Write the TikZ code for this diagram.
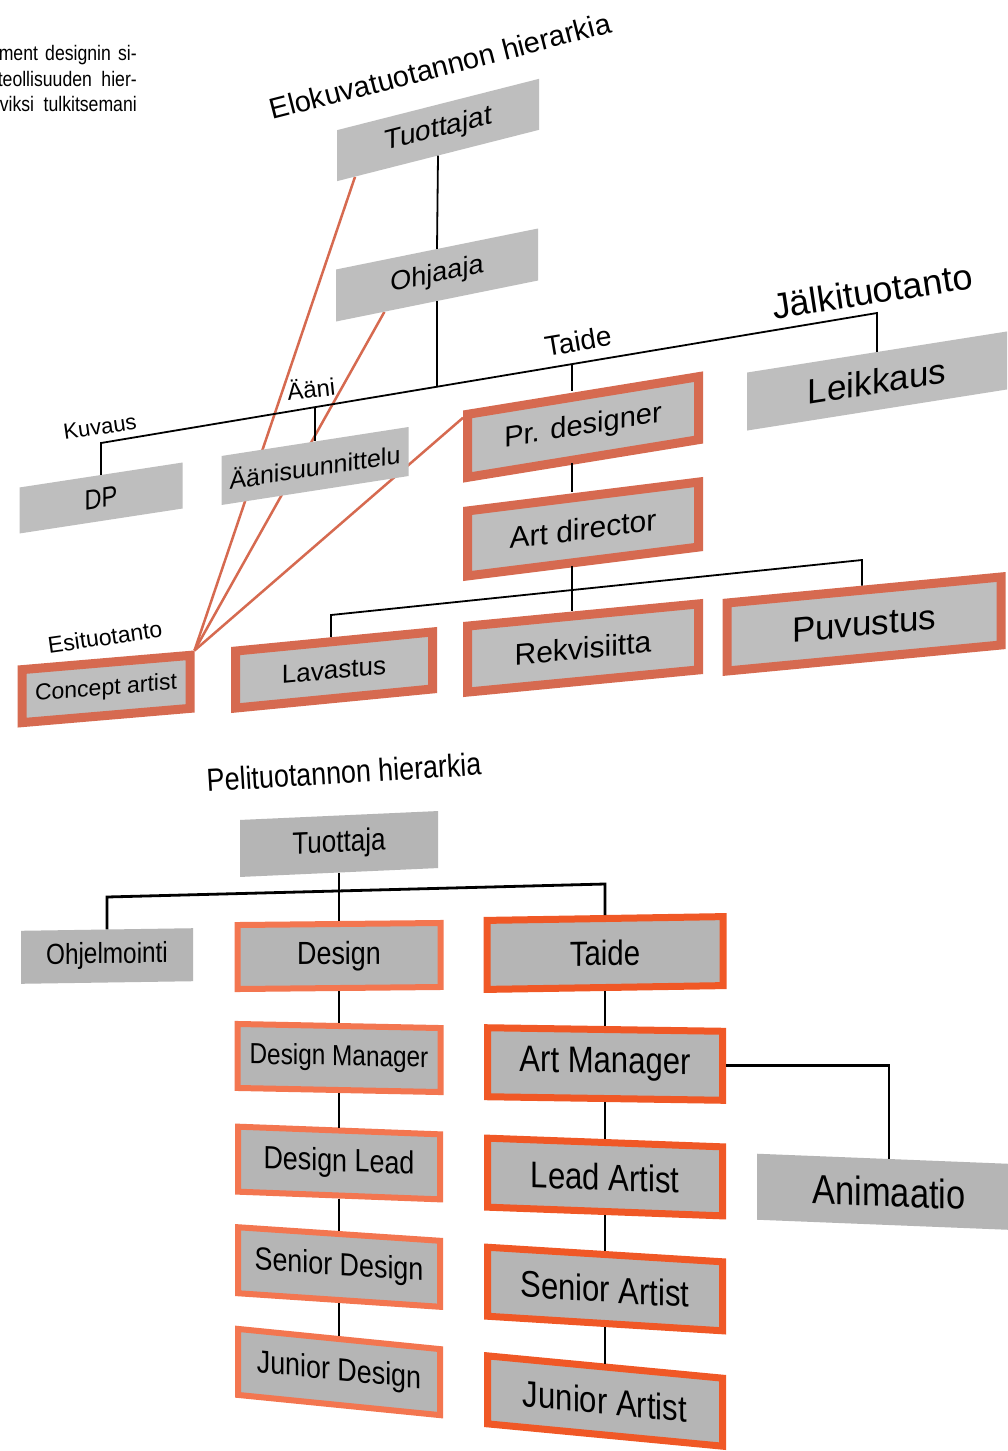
\documentclass[tikz,border=0pt]{standalone}
\usepackage{fontspec}
\setmainfont{Liberation Sans}
\newfontfamily\cnfont[FakeStretch=0.84]{Liberation Sans}
\usetikzlibrary{calc,backgrounds}

\definecolor{filmgray}{RGB}{190,190,190}
\definecolor{gamegray}{RGB}{181,181,181}
\definecolor{filmorange}{RGB}{214,106,80}
\definecolor{designorange}{RGB}{243,118,80}
\definecolor{artorange}{RGB}{240,88,38}

\newcommand{\fsz}[1]{\fontsize{#1}{#1}\selectfont}

\tikzset{
  grouptext/.style={inner sep=0pt},
  plainbox/.style={fill=filmgray, inner sep=0pt},
  filmbox/.style={fill=filmgray, draw=filmorange, line width=9pt, inner sep=0pt},
  gamebox/.style={fill=gamegray, inner sep=0pt},
  designbox/.style={fill=gamegray, draw=designorange, line width=6pt, inner sep=0pt},
  artbox/.style={fill=gamegray, draw=artorange, line width=7pt, inner sep=0pt},
  link/.style={line width=1.8pt},
  gamelink/.style={line width=2.8pt},
  sketchline/.style={filmorange, line width=2.5pt},
}

\begin{document}
\begin{tikzpicture}[x=1pt,y=-1pt]
  \useasboundingbox (0,0) rectangle (1008,1451);

  % text column, cut at the left edge
  \node[grouptext, anchor=base east, font=\cnfont\fsz{21}] (para1) at (137,60) {\makebox[138pt][s]{ment designin si-}};
  \node[grouptext, anchor=base east, font=\cnfont\fsz{21}] (para2) at (137,86) {\makebox[139pt][s]{teollisuuden hier-}};
  \node[grouptext, anchor=base east, font=\cnfont\fsz{21}] (para3) at (137,111) {\makebox[137pt][s]{viksi tulkitsemani}};

  % film production
  \node[grouptext, rotate=14.4, font=\fsz{29}] (filmtitle) at (440,66) {Elokuvatuotannon hierarkia};
  \node[plainbox, minimum width=202pt, minimum height=51pt, yslant=0.254, font=\fsz{28}] (tuottajat) at (438,130) {Tuottajat};
  \node[plainbox, minimum width=202pt, minimum height=52pt, yslant=0.203, font=\fsz{27}] (ohjaaja) at (437,275) {Ohjaaja};
  \node[plainbox, minimum width=163pt, minimum height=46pt, yslant=0.153, font=\cnfont\fsz{28}] (dp) at (101,498) {DP};
  \node[plainbox, minimum width=187pt, minimum height=49pt, yslant=0.155, font=\fsz{25}] (aanisuun) at (315,466) {Äänisuunnittelu};
  \node[plainbox, minimum width=260pt, minimum height=58pt, yslant=0.158, font=\fsz{35}] (leikkaus) at (877,381) {Leikkaus};
  \node[filmbox, minimum width=231pt, minimum height=63pt, yslant=0.163, font=\fsz{29}] (prdes) at (583,427) {Pr. designer};
  \node[filmbox, minimum width=231pt, minimum height=65pt, yslant=0.125, font=\fsz{30}] (artdir) at (583,529) {Art director};
  \node[filmbox, minimum width=231pt, minimum height=66pt, yslant=0.096, font=\fsz{30}] (rekvisiitta) at (583,648) {Rekvisiitta};
  \node[filmbox, minimum width=274pt, minimum height=68pt, yslant=0.095, font=\fsz{35}] (puvustus) at (864,624) {Puvustus};
  \node[filmbox, minimum width=197pt, minimum height=57pt, yslant=0.097, font=\fsz{26}] (lavastus) at (334,670) {Lavastus};
  \node[filmbox, minimum width=168pt, minimum height=53pt, yslant=0.085, font=\fsz{23}] (concept) at (106,689) {Concept artist};

  \node[grouptext, rotate=8, font=\fsz{22}] (kuvaus) at (100,427) {Kuvaus};
  \node[grouptext, rotate=6, font=\fsz{24}] (aani) at (311,388) {Ääni};
  \node[grouptext, rotate=9.5, font=\fsz{28}] (taide) at (578,341) {Taide};
  \node[grouptext, rotate=8.7, font=\fsz{36}] (jalki) at (872,291) {Jälkituotanto};
  \node[grouptext, rotate=8, font=\fsz{23}] (esi) at (105,637) {Esituotanto};

  \coordinate (barL) at (101,443);
  \coordinate (barR) at (877,313);
  \coordinate (jOhj) at (437,387);
  \coordinate (jAani) at (315,407);
  \coordinate (jTaide) at (572,364);
  \coordinate (lowL) at (331,615);
  \coordinate (lowR) at (862,560);

  \draw[link] (tuottajat.south) -- (ohjaaja.north);
  \draw[link] (ohjaaja.south) -- (jOhj);
  \draw[link] (dp.north) -- (barL) -- (barR) -- (leikkaus.north);
  \draw[link] (jAani) -- (aanisuun.north);
  \draw[link] (jTaide) -- (jTaide |- prdes.north);
  \draw[link] (prdes.south -| jTaide) -- (artdir.north -| jTaide);
  \draw[link] (artdir.south -| jTaide) -- (rekvisiitta.north -| jTaide);
  \draw[link] (lavastus.north -| lowL) -- (lowL) -- (lowR) -- (puvustus.north -| lowR);

  % concept artist lines, behind the boxes
  \begin{scope}[on background layer]
    \fill[white] (0,0) rectangle (1008,1451);
    \draw[sketchline] (concept.north east) -- ($(tuottajat.south west)!0.09!(tuottajat.south east)$);
    \draw[sketchline] (concept.north east) -- ($(ohjaaja.south west)!0.24!(ohjaaja.south east)$);
    \draw[sketchline] (concept.north east) -- ($(prdes.north west)!0.1!(prdes.south west)$);
  \end{scope}

  % game production
  \node[grouptext, rotate=3.5, font=\cnfont\fsz{32}] (gametitle) at (344,772) {Pelituotannon hierarkia};
  \node[gamebox, minimum width=198pt, minimum height=57pt, yslant=0.045, font=\cnfont\fsz{31}] (tuottaja) at (339,844) {Tuottaja};
  \node[gamebox, minimum width=172pt, minimum height=53pt, yslant=0.015, font=\cnfont\fsz{29}] (ohjelmointi) at (107,956) {Ohjelmointi};

  \node[designbox, minimum width=203pt, minimum height=64pt, yslant=0.01, font=\cnfont\fsz{32}] (design) at (339,956) {Design};
  \node[designbox, minimum width=203pt, minimum height=64pt, yslant=-0.02, font=\cnfont\fsz{29}] (dmanager) at (339,1058) {Design Manager};
  \node[designbox, minimum width=202pt, minimum height=65pt, yslant=-0.038, font=\cnfont\fsz{32}] (dlead) at (339,1163) {Design Lead};
  \node[designbox, minimum width=202pt, minimum height=66pt, yslant=-0.067, font=\cnfont\fsz{32}] (dsenior) at (339,1267) {Senior Design};
  \node[designbox, minimum width=202pt, minimum height=66pt, yslant=-0.1, font=\cnfont\fsz{32}] (djunior) at (339,1372) {Junior Design};

  \node[artbox, minimum width=236pt, minimum height=69pt, yslant=0.016, font=\cnfont\fsz{35}] (gtaide) at (605,953) {Taide};
  \node[artbox, minimum width=235pt, minimum height=69pt, yslant=-0.015, font=\cnfont\fsz{37}] (amanager) at (605,1064) {Art Manager};
  \node[artbox, minimum width=235pt, minimum height=69pt, yslant=-0.037, font=\cnfont\fsz{37}] (alead) at (605,1177) {Lead Artist};
  \node[artbox, minimum width=235pt, minimum height=69pt, yslant=-0.062, font=\cnfont\fsz{37}] (asenior) at (605,1289) {Senior Artist};
  \node[artbox, minimum width=235pt, minimum height=68pt, yslant=-0.095, font=\cnfont\fsz{37}] (ajunior) at (605,1401) {Junior Artist};

  \node[gamebox, minimum width=264pt, minimum height=66pt, yslant=-0.04, font=\cnfont\fsz{41}] (animaatio) at (889,1192) {Animaatio};

  \coordinate (gbarL) at (107,897);
  \coordinate (gbarR) at (605,884);

  \draw[gamelink] (ohjelmointi.north -| gbarL) -- (gbarL) -- (gbarR) -- (gtaide.north);
  \draw[gamelink] (tuottaja.south) -- (design.north);
  \draw[gamelink] (design.south) -- (dmanager.north);
  \draw[gamelink] (dmanager.south) -- (dlead.north);
  \draw[gamelink] (dlead.south) -- (dsenior.north);
  \draw[gamelink] (dsenior.south) -- (djunior.north);
  \draw[gamelink] (gtaide.south) -- (amanager.north);
  \draw[gamelink] (amanager.south) -- (alead.north);
  \draw[gamelink] (alead.south) -- (asenior.north);
  \draw[gamelink] (asenior.south) -- (ajunior.north);
  \draw[gamelink] (amanager.east) -| (animaatio.north);
\end{tikzpicture}
\end{document}
